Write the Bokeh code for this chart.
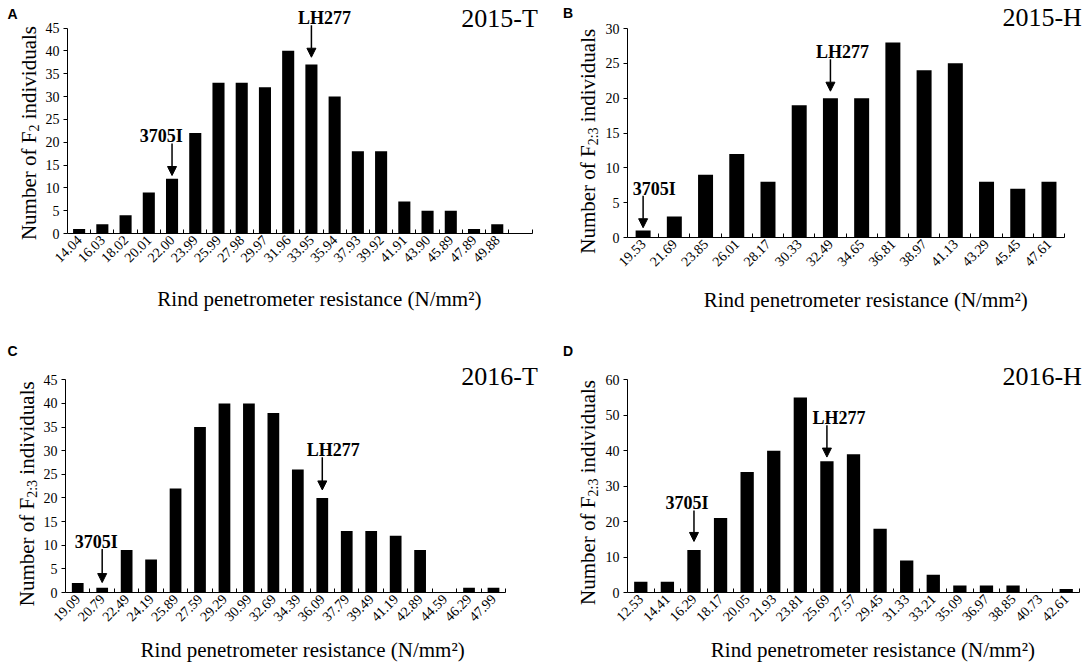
import math
from bokeh.plotting import figure
from bokeh.models import FixedTicker, Label, Arrow, NormalHead, Range1d
from bokeh.layouts import row, column
from bokeh.embed import file_html
from bokeh.resources import INLINE

# ---------------- data ----------------
a_bins = ["14.04", "16.03", "18.02", "20.01", "22.00", "23.99", "25.99", "27.98", "29.97", "31.96",
          "33.95", "35.94", "37.93", "39.92", "41.91", "43.90", "45.89", "47.89", "49.88"]
a_counts = [1, 2, 4, 9, 12, 22, 33, 33, 32, 40, 37, 30, 18, 18, 7, 5, 5, 1, 2]

b_bins = ["19.53", "21.69", "23.85", "26.01", "28.17", "30.33", "32.49", "34.65", "36.81", "38.97",
          "41.13", "43.29", "45.45", "47.61"]
b_counts = [1, 3, 9, 12, 8, 19, 20, 20, 28, 24, 25, 8, 7, 8]

c_bins = ["19.09", "20.79", "22.49", "24.19", "25.89", "27.59", "29.29", "30.99", "32.69", "34.39",
          "36.09", "37.79", "39.49", "41.19", "42.89", "44.59", "46.29", "47.99"]
c_counts = [2, 1, 9, 7, 22, 35, 40, 40, 38, 26, 20, 13, 13, 12, 9, 0, 1, 1]

d_bins = ["12.53", "14.41", "16.29", "18.17", "20.05", "21.93", "23.81", "25.69", "27.57", "29.45",
          "31.33", "33.21", "35.09", "36.97", "38.85", "40.73", "42.61"]
d_counts = [3, 3, 12, 21, 34, 40, 55, 37, 39, 18, 9, 5, 2, 2, 2, 0, 1]

panel_letters = ["A", "B", "C", "D"]
panel_years = ["2015-T", "2015-H", "2016-T", "2016-H"]
y_subscripts = ["2", "2:3", "2:3", "2:3"]
y_maxes = [45, 30, 45, 60]
y_steps = [5, 5, 5, 10]
x_title = "Rind penetrometer resistance (N/mm\u00b2)"

# parent markers: (name, bin index, arrow start y, arrow end y, label x offset px)
markers = [
    [("3705I", 4, 19.7, 12.7, -11), ("LH277", 10, 45.6, 38.6, 13)],
    [("3705I", 0, 6.0, 1.4, 11), ("LH277", 6, 25.6, 21.0, 12)],
    [("3705I", 1, 9.2, 2.1, -6), ("LH277", 10, 28.6, 21.7, 11)],
    [("3705I", 2, 23.1, 14.4, -7), ("LH277", 7, 47.2, 38.2, 12)],
]

SERIF = "Liberation Serif"
SANS = "Liberation Sans"
LB = 23          # room for the y axis
AXIS_ROOM = 40   # room for the x axis tick labels

# page geometry (px):
# ox, oy, main right edge, height, frame left, frame right, frame top, frame bottom,
# last slot edge, bar width
geoms = [
    (0, 0, 556, 336, 65, 531.5, 27.5, 233, 19.5, 0.52),
    (556, 0, 1084, 336, 625, 1064, 28, 237, 13.5, 0.48),
    (0, 336, 556, 328, 63, 505, 379.3, 592, 17.5, 0.48),
    (556, 336, 1084, 328, 625, 1079, 379.3, 592, 16.5, 0.50),
]
letter_pos = [(7, 18), (562.5, 17), (7, 355), (562.5, 355)]       # left, baseline
year_pos = [(537, 26.7), (1081, 26), (537, 385), (1081, 385)]     # right, baseline
ytitle_pos = [(34.4, 132.5), (593.8, 140.8), (32.5, 493.3), (593.8, 492)]  # baseline x, centre y
xtitle_pos = [(298.5, 306), (844.5, 307), (281, 657), (852, 657)]  # centre x, baseline

# Times/Liberation Serif advance widths (em)
W = {"N": .722, "u": .5, "m": .778, "b": .5, "e": .444, "r": .333, " ": .25, "o": .5,
     "f": .333, "F": .556, ":": .278, "i": .278, "n": .5, "d": .5, "v": .5, "a": .444,
     "l": .278, "s": .389, "R": .667, "p": .5, "t": .278, "c": .444, "(": .333, ")": .333,
     "/": .278, "\u00b2": .3, "-": .333, "T": .611, "H": .722}
for dgt in "0123456789":
    W[dgt] = .5
WB = {"L": .667, "H": .778, "I": .389}   # Times bold
for dgt in "0123456789":
    WB[dgt] = .5
MID = 0.34   # centre of the line box above the baseline (em)


def tw(s, table=W):
    return sum(table[c] for c in s)


def bare(width, height, xr, yr, **kw):
    p = figure(width=width, height=height, x_range=xr, y_range=yr, title=None,
               output_backend="svg", toolbar_location=None,
               background_fill_color="white", border_fill_color="white", **kw)
    p.outline_line_color = None
    p.grid.visible = False
    return p


def strip(width, height):
    return bare(width, height, Range1d(0, width), Range1d(0, height), min_border=0,
                x_axis_location=None, y_axis_location=None)


def flat_label(x, y, text, size, font=SERIF, style="normal"):
    return Label(x=x, y=y, text=text, text_align="left", text_baseline="middle",
                 text_font=font, text_font_style=style, text_font_size=f"{size}px",
                 text_color="black")


def make_panel(k, bins, counts):
    ox, oy, right, H, fl, fr, ft, fb, x_end, bw = geoms[k]
    lw = fl - LB - ox
    mw = right - ox - lw
    ymax = y_maxes[k]
    ppc = (fr - fl) / (x_end + 0.5)
    ppu = (fb - ft) / ymax
    strip_top = fb + AXIS_ROOM

    def to_data(px, py):
        return -0.5 + (px - fl) / ppc, (fb - py) / ppu

    # ---- main chart ----
    x_far = -0.5 + (right - fl) / ppc
    y_far = (fb - oy) / ppu
    p = bare(mw, strip_top - oy, Range1d(-0.5, x_far), Range1d(0, y_far),
             min_border_left=LB, min_border_right=0, min_border_top=0,
             min_border_bottom=AXIS_ROOM)

    idx = list(range(len(bins)))
    p.vbar(x=idx, top=counts, width=bw, bottom=0, fill_color="black", line_color=None)

    xa = p.xaxis[0]
    xa.bounds = (-0.5, x_end)
    xa.ticker = FixedTicker(ticks=idx, minor_ticks=[i + 0.5 for i in range(int(x_end + 0.5))])
    xa.major_label_overrides = {i: b for i, b in enumerate(bins)}
    xa.major_label_orientation = math.pi / 4
    xa.major_tick_in = 0
    xa.major_tick_out = 0
    xa.minor_tick_in = 4
    xa.minor_tick_out = 0
    xa.minor_tick_line_color = "black"
    xa.axis_line_color = "black"
    xa.major_label_text_font = SERIF
    xa.major_label_text_font_size = "14px"
    xa.major_label_text_color = "black"
    xa.major_label_standoff = 4

    ya = p.yaxis[0]
    ya.bounds = (0, ymax)
    ya.ticker = FixedTicker(ticks=list(range(0, ymax + 1, y_steps[k])), minor_ticks=[])
    ya.major_tick_in = 0
    ya.major_tick_out = 4
    ya.major_tick_line_color = "black"
    ya.axis_line_color = "black"
    ya.major_label_text_font = SERIF
    ya.major_label_text_font_size = "14px"
    ya.major_label_text_color = "black"
    ya.major_label_standoff = 4

    # year label (right edge, baseline given)
    rx, by = year_pos[k]
    yw = tw(panel_years[k]) * 26
    yx, yy = to_data(rx - yw, by - MID * 26)
    p.add_layout(flat_label(yx, yy, panel_years[k], 26))

    # parent arrows
    for name, i, ys, ye, dx in markers[k]:
        p.add_layout(Arrow(x_start=i, y_start=ys, x_end=i, y_end=ye, line_color="black",
                           line_width=1.5,
                           end=NormalHead(size=9, fill_color="black", line_color="black",
                                          line_width=1)))
        nw = tw(name, WB) * 18
        p.add_layout(flat_label(i + (dx - nw / 2) / ppc, ys + (1 + MID * 18) / ppu, name, 18,
                                style="bold"))

    # ---- x title strip ----
    s = strip(mw, oy + H - strip_top)
    cx, by = xtitle_pos[k]
    xw = tw(x_title) * 21
    s.add_layout(flat_label(cx - xw / 2 - (ox + lw), oy + H - (by - MID * 21), x_title, 21))

    # ---- left strip (y title + panel letter) ----
    q = strip(lw, H)

    def to_lab(px, py):
        return px - ox, oy + H - py

    lx, ly = to_lab(letter_pos[k][0], letter_pos[k][1] - MID * 14)
    q.add_layout(flat_label(lx, ly, panel_letters[k], 14, font=SANS, style="bold"))

    fs, sfs = 21, 14
    sub = y_subscripts[k]
    w1 = tw("Number of F") * fs
    ws = tw(sub) * sfs
    w2 = tw(" individuals") * fs
    bx, cy = ytitle_pos[k]
    start_py = cy + (w1 + ws + w2) / 2
    x0, y0 = to_lab(bx, start_py)
    common = dict(angle=math.pi / 2, text_align="center", text_baseline="middle",
                  text_font=SERIF, text_color="black")
    q.add_layout(Label(x=x0 - 0.3 * fs, y=y0 + w1 / 2, text="Number of F",
                       text_font_size=f"{fs}px", **common))
    q.add_layout(Label(x=x0 + 3.5 - 0.3 * sfs, y=y0 + w1 + ws / 2, text=sub,
                       text_font_size=f"{sfs}px", **common))
    q.add_layout(Label(x=x0 - 0.3 * fs, y=y0 + w1 + ws + 0.25 * fs + (w2 - 0.25 * fs) / 2,
                       text="individuals", text_font_size=f"{fs}px", **common))
    return row(q, column(p, s))


layout = column(row(make_panel(0, a_bins, a_counts), make_panel(1, b_bins, b_counts)),
                row(make_panel(2, c_bins, c_counts), make_panel(3, d_bins, d_counts)))
open("out.html", "w").write(file_html(layout, INLINE))
